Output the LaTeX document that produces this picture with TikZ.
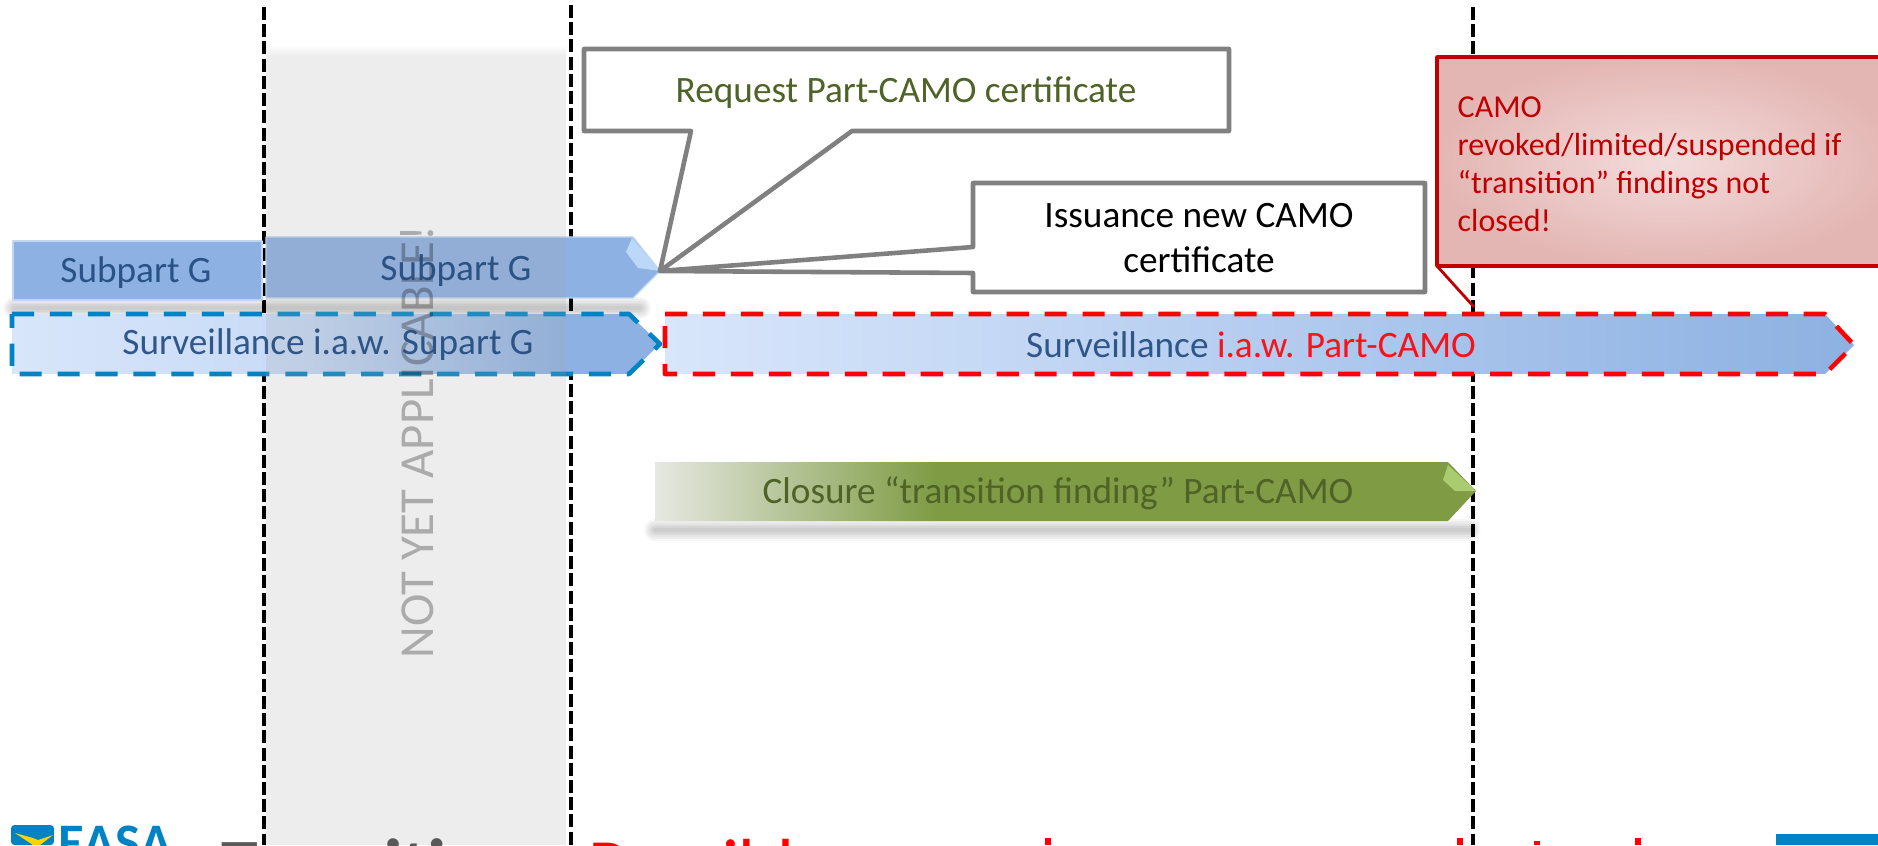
\documentclass[tikz,border=0pt]{standalone}
\usepackage{fontspec}
\setmainfont{Carlito}
\usepackage{tikz}

\definecolor{barblue}{HTML}{8DB1E2}
\definecolor{barlight}{HTML}{D8E6FB}
\definecolor{barmid}{HTML}{C8DAF6}
\definecolor{tipblue}{HTML}{BBD8F8}
\definecolor{easablue}{HTML}{0083C4}
\definecolor{greenbar}{HTML}{7F9C45}
\definecolor{greenlight}{HTML}{E6E8E2}
\definecolor{greentext}{HTML}{4F6228}
\definecolor{tipgreen}{HTML}{ABCB70}
\definecolor{darkred}{HTML}{C00000}
\definecolor{pinklight}{HTML}{F3DBDB}
\definecolor{pinkdark}{HTML}{E3B6B3}
\definecolor{bluetext}{HTML}{1F497D}

\pgfdeclarehorizontalshading{bluefade}{100bp}{color(0bp)=(barlight); color(25bp)=(barlight); color(47bp)=(barmid); color(68bp)=(barblue); color(100bp)=(barblue)}
\pgfdeclarehorizontalshading{redfade}{100bp}{color(0bp)=(barlight); color(25bp)=(barlight); color(45bp)=(barmid!80!barblue); color(65bp)=(barblue!75!barmid); color(75bp)=(barblue); color(100bp)=(barblue)}
\pgfdeclarehorizontalshading{greenfade}{100bp}{color(0bp)=(greenlight); color(25bp)=(greenlight); color(42bp)=(greenbar); color(100bp)=(greenbar)}

\begin{document}
\begin{tikzpicture}[scale=1,line join=round]
	\tikzstyle{txt}=[font=\fontsize{10.6}{12.9}\selectfont,inner sep=0pt]
	\tikzstyle{bluetxt}=[txt,text=bluetext,opacity=.9]
	\tikzstyle{greentxt}=[txt,text=greentext]
	\tikzstyle{vline}=[black,line width=1pt,dash pattern=on 3.7pt off 1.2pt]
	\tikzstyle{solidbar}=[fill=barblue,draw=barlight!70!barblue,line width=.4pt]
	\tikzstyle{bluedash}=[draw=easablue,line width=1.3pt,dash pattern=on 6.3pt off 4.5pt]
	\tikzstyle{reddash}=[draw=red,line width=1.3pt,dash pattern=on 6.3pt off 4.5pt]
	\tikzstyle{wedge}=[draw=black!50,fill=white,line width=1.3pt]
	\tikzstyle{blurbar}=[black,opacity=.035,line cap=round]

\useasboundingbox (0,0) rectangle (18.78,8.45);

\coordinate (tipa) at (6.60,5.74);
\coordinate (tipb) at (14.74,5.38);

\draw[vline] (2.64,8.38) -- (2.64,0);
\draw[vline] (5.71,8.40) -- (5.71,0);
\draw[vline] (14.73,8.38) -- (14.73,0);

\foreach \w in {1,...,6}{
	\draw[blurbar,line width=\w pt] (0.14,5.37) -- (6.40,5.37);
	\draw[blurbar,line width=\w pt] (6.55,3.15) -- (14.70,3.15);
}

\draw[solidbar] (0.13,6.04) rectangle (2.62,5.45);
\draw[solidbar] (2.66,6.08) -- (6.33,6.08) -- (tipa) -- (6.33,5.47) -- (2.66,5.47) -- cycle;
\fill[tipblue] (6.32,6.07) -- (6.26,5.93) -- (6.38,5.77) -- (tipa) -- cycle;

\shade[shading=bluefade] (0.12,5.31) -- (6.29,5.31) -- (6.60,5.01) -- (6.29,4.71) -- (0.12,4.71) -- cycle;
\draw[bluedash] (0.12,5.31) -- (6.29,5.31) -- (6.60,5.01) -- (6.29,4.71) -- (0.12,4.71) -- cycle;
\shade[shading=redfade] (6.65,5.31) -- (18.25,5.31) -- (18.54,5.00) -- (18.25,4.71) -- (6.65,4.71) -- cycle;
\draw[reddash] (6.65,5.31) -- (18.25,5.31) -- (18.54,5.00) -- (18.25,4.71) -- (6.65,4.71) -- cycle;

\shade[shading=greenfade] (6.55,3.83) -- (14.48,3.83) -- (14.76,3.54) -- (14.48,3.24) -- (6.55,3.24) -- cycle;
\fill[tipgreen] (14.48,3.80) -- (14.43,3.65) -- (14.55,3.54) -- (14.76,3.54) -- cycle;

\shade[top color=white,bottom color=black!7] (2.66,8.00) rectangle (5.66,7.90);
\fill[black!35,opacity=.2] (2.66,7.90) rectangle (5.66,0);

\node[font=\fontsize{13.9}{15}\selectfont,black,opacity=.28,rotate=90,inner sep=0pt] (notyet) at (4.17,4.03) {NOT YET APPLICABLE!};

\node[bluetxt] (subg) at (1.36,5.72) {Subpart G};
\node[bluetxt] (subgb) at (4.56,5.74) {Subpart G};
\node[bluetxt] (survg) at (3.28,5.00) {Surveillance i.a.w. Supart G};
\node[bluetxt] (survc) at (12.51,5.00) {Surveillance \textcolor{red}{i.a.w. Part-CAMO}};
\node[greentxt] (closure) at (10.58,3.52) {Closure “transition finding” Part-CAMO};

\draw[wedge] (5.84,7.96) -- (12.29,7.96) -- (12.29,7.14) -- (8.52,7.14) -- (tipa) -- (6.91,7.14) -- (5.84,7.14) -- cycle;
\node[greentxt] (request) at (9.06,7.52) {Request Part-CAMO certificate};
\draw[wedge] (9.73,6.62) -- (14.25,6.62) -- (14.25,5.53) -- (9.73,5.53) -- (9.73,5.72) -- (tipa) -- (9.73,5.98) -- cycle;
\node[txt,align=center] (issue) at (11.99,6.07) {Issuance new CAMO\\certificate};

\draw[darkred,line width=1pt,inner color=pinklight,outer color=pinkdark,shading=radial] (14.37,7.88) rectangle (19.00,5.79);
\draw[darkred,line width=.8pt] (14.37,5.79) -- (tipb);
\node[txt,font=\fontsize{9.1}{10.8}\selectfont,text=darkred,align=left,anchor=north west] (warn) at (14.57,7.49) {CAMO\\revoked/limited/suspended if\\“transition” findings not\\closed!};

\fill[easablue,rounded corners=1pt] (0.11,0) rectangle (0.54,0.20);
\fill[yellow!70!orange] (0.15,0.12) -- (0.33,0) -- (0.40,0) -- (0.53,0.10) -- (0.38,0.05) -- (0.33,0.07) -- cycle;
\node[font=\fontsize{15}{15}\bfseries\selectfont,text=easablue,anchor=base west,inner sep=0pt] (easa) at (0.58,-0.15) {EASA};

\node[font=\fontsize{21}{21}\bfseries\selectfont,text=black!65,anchor=base west,inner sep=0pt] (trans) at (2.21,-0.45) {Transition};
\node[font=\fontsize{21}{21}\selectfont,text=red,anchor=base west,inner sep=0pt] (poss) at (5.88,-0.45) {Possible};
\fill[red] (10.45,0) rectangle (10.51,0.07);
\fill[red] (14.57,0) rectangle (14.63,0.07);
\fill[red] (15.34,0) rectangle (15.40,0.04);
\fill[red] (16.35,0) rectangle (16.41,0.07);

\fill[easablue] (17.76,0) rectangle (18.78,0.11);

\end{tikzpicture}
\end{document}
